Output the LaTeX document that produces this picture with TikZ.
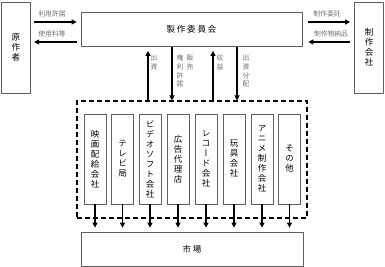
\documentclass[tikz,border=0pt]{standalone}
\usepackage{fontspec}
\setmainfont{Noto Sans CJK JP}
\newfontfamily\vjp[RawFeature={+vert}]{Noto Sans CJK JP}
\newfontfamily\spjp[LetterSpace=22]{Noto Sans CJK JP}
\usetikzlibrary{arrows.meta,fit}
\definecolor{boxline}{HTML}{606060}
\definecolor{labelgray}{HTML}{707070}
\begin{document}
\begin{tikzpicture}[x=1pt,y=-1pt,
  box/.style={draw=boxline,line width=0.8pt,inner sep=0pt,align=center,font=\vjp\fontsize{8.5}{10}\selectfont},
  widebox/.style={box,font=\spjp\fontsize{8.5}{10}\selectfont},
  cobox/.style={box,minimum width=22pt,minimum height=90pt},
  lab/.style={text=labelgray,inner sep=0pt,font=\vjp\fontsize{6.8}{8.6}\selectfont,align=center},
  arr/.style={line width=1.1pt,-{Triangle[length=5pt,width=5pt]}}]
\useasboundingbox (0,0) rectangle (385,267);
\node[box,minimum width=29.5pt,minimum height=91pt] (gen) at (16,47.5) {原\\作\\者};
\node[widebox,minimum width=221pt,minimum height=34pt] (com) at (191.5,29.5) {\raisebox{-1.5pt}{製作委員会}};
\node[box,minimum width=29pt,minimum height=91pt] (prod) at (369,47.5) {制\\作\\会\\社};
\node[widebox,minimum width=222pt,minimum height=34pt] (mkt) at (192,249) {市場};
\node[cobox] (c1) at (95,159) {映\\画\\配\\給\\会\\社};
\node[cobox] (c2) at (122.5,159) {テ\\レ\\ビ\\局};
\node[cobox] (c3) at (150,159) {ビ\\デ\\オ\\ソ\\フ\\ト\\会\\社};
\node[cobox] (c4) at (178,159) {広\\告\\代\\理\\店};
\node[cobox] (c5) at (206,159) {レ\\コ\\ー\\ド\\会\\社};
\node[cobox] (c6) at (234,159) {玩\\具\\会\\社};
\node[cobox] (c7) at (262,159) {ア\\ニ\\メ\\制\\作\\会\\社};
\node[cobox] (c8) at (289.5,159) {そ\\の\\他};
\coordinate (g1) at (77,101);
\coordinate (g2) at (307,218);
\node[draw,dashed,dash pattern=on 5pt off 3pt,line width=1.1pt,inner sep=0pt,fit=(g1)(g2)] (grp) {};
% horizontal arrows
\draw[arr,shorten <=3pt,shorten >=4pt] (gen.east |- 0,22) -- (com.west |- 0,22);
\draw[arr,shorten <=4pt,shorten >=3pt] (com.west |- 0,42) -- (gen.east |- 0,42);
\draw[arr,shorten <=6pt,shorten >=4pt] (com.east |- 0,22) -- (prod.west |- 0,22);
\draw[arr,shorten <=4pt,shorten >=6pt] (prod.west |- 0,42) -- (com.east |- 0,42);
\node[lab] (l1) at (52,14) {利用許諾};
\node[lab] (l2) at (52,34) {使用料等};
\node[lab] (l3) at (327,14) {制作委託};
\node[lab] (l4) at (331,34) {制作物納品};
% vertical arrows
\draw[arr,shorten >=4pt] (grp.north -| 148,0) -- (com.south -| 148,0);
\draw[arr] (com.south -| 172,0) -- (grp.north -| 172,0);
\draw[arr,shorten >=4pt] (grp.north -| 213,0) -- (com.south -| 213,0);
\draw[arr] (com.south -| 237,0) -- (grp.north -| 237,0);
\node[lab,anchor=north] (v1) at (154,55) {出\\資};
\node[lab,anchor=north] (v2) at (180,55) {権\\利\\許\\諾};
\node[lab,anchor=north] (v3) at (190,55) {販\\売};
\node[lab,anchor=north] (v4) at (220,55) {収\\益};
\node[lab,anchor=north] (v5) at (246,55) {出\\資\\分\\配};
% company arrows
\foreach \c in {c1,c2,c3,c4,c5,c6,c7,c8}
  \draw[arr,shorten >=4pt] (\c.south) -- (mkt.north -| \c.south);
\end{tikzpicture}
\end{document}
